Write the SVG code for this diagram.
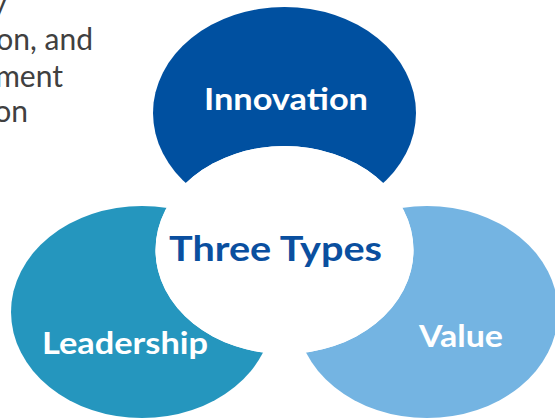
<svg xmlns="http://www.w3.org/2000/svg" width="555" height="420" viewBox="0 0 555 420">
  <style>
    .lbl { font-family: Lato, "Open Sans", "DejaVu Sans", sans-serif; font-weight: 700; fill: #ffffff; }
    .ctr { font-family: Lato, "Open Sans", "DejaVu Sans", sans-serif; font-weight: 700; fill: #0A4F9F; }
    .body { font-family: Lato, "Open Sans", "DejaVu Sans", sans-serif; font-weight: 400; fill: #404040; font-size: 30px; }
  </style>
  <defs>
    <mask id="cut">
      <rect x="0" y="0" width="555" height="420" fill="#fff"/>
      <ellipse cx="284.5" cy="250" rx="129" ry="104" fill="#000"/>
    </mask>
  </defs>
  <rect width="555" height="420" fill="#ffffff"/>
  <g id="body-text">
    <text class="body" x="7" y="14" text-anchor="end">y</text>
    <text class="body" x="93" y="50" text-anchor="end">on, and</text>
    <text class="body" x="63" y="87" text-anchor="end">ment</text>
    <text class="body" x="28" y="122" text-anchor="end">on</text>
  </g>
  <g id="connectors"></g>
  <g id="innovation">
    <ellipse cx="284.5" cy="113" rx="131.5" ry="106" fill="#0050A0" mask="url(#cut)"/>
    <text class="lbl" x="286" y="109.5" font-size="31" text-anchor="middle" textLength="164" lengthAdjust="spacingAndGlyphs">Innovation</text>
  </g>
  <g id="leadership">
    <ellipse cx="142" cy="312" rx="131" ry="106" fill="#2596BE" mask="url(#cut)"/>
    <text class="lbl" x="125" y="353.5" font-size="30" text-anchor="middle" textLength="166" lengthAdjust="spacingAndGlyphs">Leadership</text>
  </g>
  <g id="value">
    <ellipse cx="427" cy="312" rx="131" ry="106" fill="#74B4E2" mask="url(#cut)"/>
    <text class="lbl" x="461" y="346.5" font-size="31" text-anchor="middle" textLength="84" lengthAdjust="spacingAndGlyphs">Value</text>
  </g>
  <g id="three-types">
    <ellipse cx="284.5" cy="250" rx="129" ry="104" fill="#ffffff"/>
    <text class="ctr" x="275.5" y="260.5" font-size="34" text-anchor="middle" textLength="213" lengthAdjust="spacingAndGlyphs">Three Types</text>
  </g>
</svg>
